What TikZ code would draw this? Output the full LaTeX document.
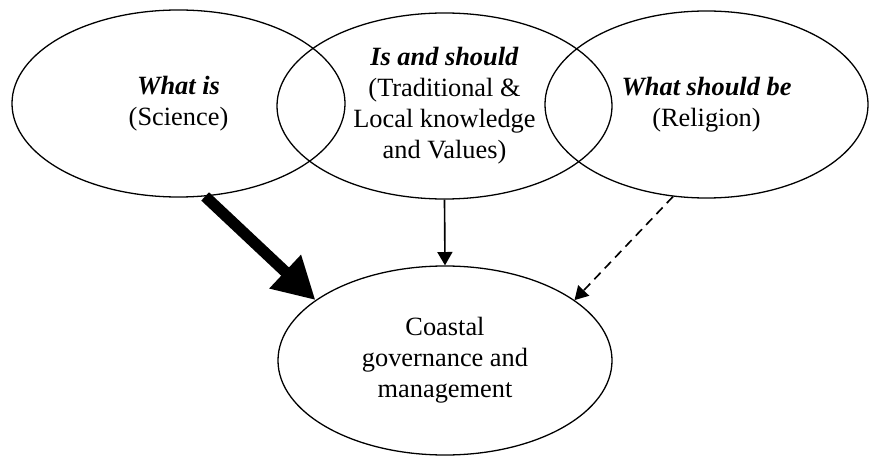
\documentclass[tikz,border=0pt]{standalone}
\usepackage{fontspec}
\setmainfont{Liberation Serif}
\usetikzlibrary{shapes.geometric,arrows.meta}

\begin{document}
\begin{tikzpicture}[
        x=0.03cm, y=-0.03cm,
        oval/.style={ellipse, draw, line width=1.1pt, inner sep=0pt, align=center,
            font=\fontsize{22.5}{26.5}\selectfont},
        link/.style={line width=1.4pt, -{Triangle[length=0.4cm, width=0.45cm]}}
    ]
    \useasboundingbox (0,0) rectangle (869,457);

    % the three sources
    \node[oval, minimum width=9.99cm, minimum height=5.61cm] (sci) at (178.5,103.5)
        {\textbf{\textit{What is}}\\(Science)};
    \node[oval, minimum width=10.05cm, minimum height=5.58cm] (vals) at (444.5,106)
        {\textbf{\textit{Is and should}}\\(Traditional \&\\Local knowledge\\and Values)};
    \node[oval, minimum width=9.69cm, minimum height=5.61cm] (rel) at (706.5,104.5)
        {\textbf{\textit{What should be}}\\(Religion)};

    % the target
    \node[oval, minimum width=10.02cm, minimum height=5.67cm] (coast) at (445,360.5)
        {Coastal\\governance and\\management};

    \draw[line width=0.34cm, -{Triangle[length=1.25cm, width=1.3cm]}] (sci.-74) -- (coast.155.5);
    \draw[link] (vals.south) -- (coast.north);
    \draw[link, dash pattern=on 0.27cm off 0.18cm] (rel.-110.5) -- (coast.25.6);
\end{tikzpicture}
\end{document}
